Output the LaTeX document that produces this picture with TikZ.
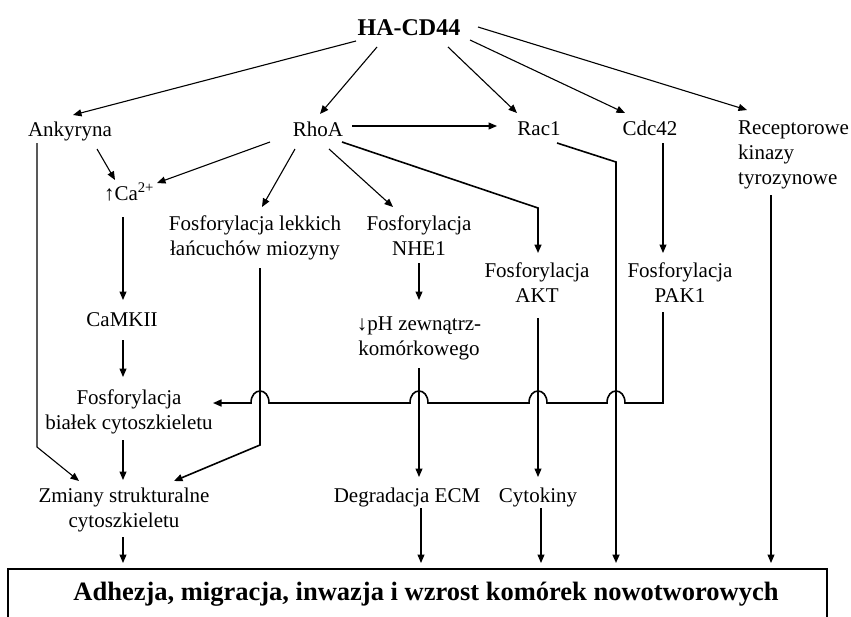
\documentclass[tikz,border=0pt]{standalone}
\usepackage{fontspec}
\setmainfont{Liberation Serif}
\usetikzlibrary{arrows.meta}
\begin{document}
\begin{tikzpicture}[x=1pt,y=-1pt,
  lbl/.style={font=\fontsize{21}{25}\selectfont, inner sep=0pt, align=center, anchor=base},
  bigbold/.style={font=\fontsize{24}{28}\selectfont\bfseries, inner sep=0pt, anchor=base},
  ar/.style={-{Triangle[length=8.5pt,width=7pt]}, line width=1.1pt},
  thk/.style={line width=1.6pt}]
\useasboundingbox (0,0) rectangle (851,616);

% nodes (multi-line nodes: base = last line)
\node[bigbold] (hacd) at (409,35) {HA-CD44};
\node[lbl] (ank) at (70,136) {Ankyryna};
\node[lbl] (rhoa) at (318,136) {RhoA};
\node[lbl] (rac) at (539,135) {Rac1};
\node[lbl] (cdc) at (650,135) {Cdc42};
\node[lbl, align=left, anchor=base west] (rec) at (738,184) {Receptorowe\\kinazy\\tyrozynowe};
\node[lbl] (ca) at (129,200) {↑Ca\textsuperscript{2+}};
\node[lbl] (lekk) at (255,255) {Fosforylacja lekkich\\łańcuchów miozyny};
\node[lbl] (nhe) at (419,255) {Fosforylacja\\NHE1};
\node[lbl] (akt) at (537,302) {Fosforylacja\\AKT};
\node[lbl] (pak) at (680,302) {Fosforylacja\\PAK1};
\node[lbl] (camk) at (122,326) {CaMKII};
\node[lbl] (ph) at (419,355) {↓pH zewnątrz-\\komórkowego};
\node[lbl] (fb) at (129,429) {Fosforylacja\\białek cytoszkieletu};
\node[lbl] (zm) at (124,527) {Zmiany strukturalne\\cytoszkieletu};
\node[lbl] (deg) at (407,502) {Degradacja ECM};
\node[lbl] (cyt) at (538,502) {Cytokiny};
\node[bigbold, font=\fontsize{26.5}{30}\selectfont\bfseries] (title) at (426,600) {Adhezja, migracja, inwazja i wzrost komórek nowotworowych};
\draw[line width=1.5pt] (8,625) |- (827,569) -- (827,625);

% connectors from HA-CD44
\draw[ar] (356,41) -- (73,115);
\draw[ar] (377,47) -- (320,114);
\draw[ar] (448,47) -- (517,113);
\draw[ar] (470,40) -- (625,113);
\draw[ar] (478,27) -- (747,110);

% RhoA
\draw[ar] (352,126) -- (497,126);
\draw[ar] (270,142) -- (157,183);
\draw[ar] (295,149) -- (262,207);
\draw[ar] (329,149) -- (393,207);
\draw[ar, thk] (342,142) -- (538,208) -- (538,253);

% Ankyryna
\draw[ar] (97,149) -- (115,180);
\draw[ar] (37,143) -- (37,447) -- (79,481);

% Ca chain
\draw[ar] (123,217) -- (123,300);
\draw[ar] (123,340) -- (123,377);
\draw[ar] (123,440) -- (123,480);
\draw[ar] (123,537) -- (123,563);

% lekkich
\draw[ar, thk] (260,268) -- (260,445) -- (174,481);

% NHE1 chain
\draw[ar] (419,263) -- (419,300);
\draw[ar] (419,368) -- (419,477);
\draw[ar] (421,508) -- (421,563);

% AKT chain
\draw[ar] (538,318) -- (538,477);
\draw[ar] (541,508) -- (541,563);

% Rac1
\draw[ar, thk] (557,143) -- (616,162) -- (616,563);

% Cdc42
\draw[ar] (663,143) -- (663,253);

% Receptorowe
\draw[ar] (771,195) -- (771,563);

% PAK1 line with hops
\draw[ar, thk] (663,312) -- (663,403)
  -- (625,403) .. controls (625,387) and (607,387) .. (607,403)
  -- (547,403) .. controls (547,387) and (529,387) .. (529,403)
  -- (428,403) .. controls (428,387) and (410,387) .. (410,403)
  -- (269,403) .. controls (269,387) and (251,387) .. (251,403)
  -- (213,403);
\end{tikzpicture}
\end{document}
